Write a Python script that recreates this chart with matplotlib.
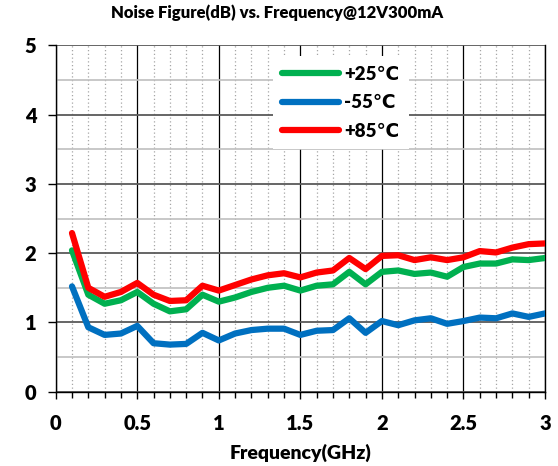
import numpy as np
import matplotlib
matplotlib.use("Agg")
import matplotlib.pyplot as plt
from matplotlib.ticker import MultipleLocator

plt.rcParams['font.family'] = ['Lato', 'DejaVu Sans']

# frequency (GHz)
freq = [0.1, 0.2, 0.3, 0.4, 0.5, 0.6, 0.7, 0.8, 0.9, 1.0,
        1.1, 1.2, 1.3, 1.4, 1.5, 1.6, 1.7, 1.8, 1.9, 2.0,
        2.1, 2.2, 2.3, 2.4, 2.5, 2.6, 2.7, 2.8, 2.9, 3.0]

# noise figure (dB)
nf_p25 = [2.04, 1.40, 1.27, 1.32, 1.44, 1.27, 1.16, 1.19, 1.40, 1.30,
          1.36, 1.44, 1.50, 1.53, 1.46, 1.53, 1.55, 1.73, 1.55, 1.73,
          1.75, 1.70, 1.72, 1.66, 1.80, 1.85, 1.85, 1.91, 1.90, 1.93]
nf_m55 = [1.52, 0.93, 0.82, 0.84, 0.95, 0.70, 0.68, 0.69, 0.85, 0.74,
          0.84, 0.89, 0.91, 0.91, 0.82, 0.88, 0.89, 1.06, 0.85, 1.02,
          0.96, 1.03, 1.06, 0.98, 1.02, 1.07, 1.06, 1.13, 1.08, 1.13]
nf_p85 = [2.29, 1.50, 1.37, 1.44, 1.57, 1.40, 1.31, 1.32, 1.53, 1.46,
          1.54, 1.62, 1.68, 1.71, 1.65, 1.72, 1.75, 1.93, 1.77, 1.96,
          1.97, 1.90, 1.94, 1.90, 1.94, 2.03, 2.01, 2.08, 2.13, 2.14]

labels = ["+25℃", "-55℃", "+85℃"]
colors = ["#00b050", "#0070c0", "#ff0000"]

fig = plt.figure(figsize=(5.58, 4.66), dpi=100)
ax = fig.add_axes([0.0998, 0.1594, 0.8769, 0.7434])

for ys, lab, c in zip([nf_p25, nf_m55, nf_p85], labels, colors):
    ax.plot(freq, ys, color=c, lw=4.5, label=lab,
            solid_capstyle="round", solid_joinstyle="round", zorder=3)

ax.set_xlim(0, 3)
ax.set_ylim(0, 5)
ax.xaxis.set_major_locator(MultipleLocator(0.5))
ax.xaxis.set_minor_locator(MultipleLocator(0.1))
ax.yaxis.set_major_locator(MultipleLocator(1))
ax.yaxis.set_minor_locator(MultipleLocator(0.5))
ax.xaxis.set_major_formatter(plt.FuncFormatter(lambda v, p: f"{v:g}"))

# grid
ax.grid(axis="x", which="major", color="black", lw=0.9)
ax.grid(axis="x", which="minor", color="#a6a6a6", lw=0.9, ls=(0, (1, 2)))
ax.grid(axis="y", which="major", color="#595959", lw=1.3)
ax.grid(axis="y", which="minor", color="#bfbfbf", lw=1.2)
ax.set_axisbelow(True)

ax.spines["top"].set_visible(False)
for s in ["left", "bottom", "right"]:
    ax.spines[s].set_color("black")
    ax.spines[s].set_linewidth(1.0)

ax.tick_params(axis="x", which="major", direction="out", length=5, width=1, pad=11)
ax.tick_params(axis="x", which="minor", direction="out", length=4, width=1)
ax.tick_params(axis="y", which="major", direction="out", length=6, width=1, pad=8)
ax.tick_params(axis="y", which="minor", length=0)
for t in ax.get_xticklabels() + ax.get_yticklabels():
    t.set_fontsize(14.5)
    t.set_fontweight("heavy")

ax.set_xlabel("Frequency(GHz)", fontsize=14, fontweight="heavy", labelpad=8)
fig.suptitle("Noise Figure(dB) vs. Frequency@12V300mA", x=0.497, y=0.99,
             fontsize=12, fontweight="heavy")

leg = ax.legend(loc="upper left", bbox_to_anchor=(0.425, 0.995), frameon=True,
                fancybox=False, edgecolor="none", facecolor="white", framealpha=1,
                handlelength=3.0, labelspacing=0.62, handletextpad=0.3,
                borderpad=0.5, prop={"weight": "heavy", "size": 13.5})

fig.savefig("out.png", dpi=100)
